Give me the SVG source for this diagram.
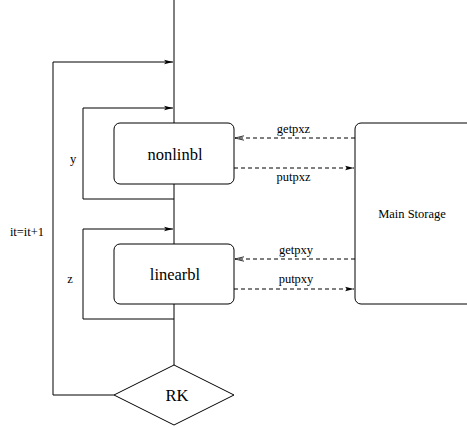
<svg xmlns="http://www.w3.org/2000/svg" width="467" height="427" viewBox="0 0 467 427">
  <style>
    .ln { fill: none; stroke: #000; stroke-width: 1; }
    .box { fill: #fff; stroke: #000; stroke-width: 1; }
    .dash { fill: none; stroke: #000; stroke-width: 1; stroke-dasharray: 4 3; }
    .lbl { font-family: "Liberation Serif", "Times New Roman", serif; fill: #000; }
    .big { font-size: 16.5px; }
    .sm { font-size: 12.5px; }
  </style>
  <defs>
    <marker id="solidHead" markerWidth="10" markerHeight="6" refX="9" refY="3" orient="auto" markerUnits="userSpaceOnUse">
      <path d="M0,0.8 L9,3 L0,5.2 L2,3 Z" fill="#000"/>
    </marker>
    <marker id="openHead" markerWidth="10" markerHeight="6" refX="9" refY="3" orient="auto" markerUnits="userSpaceOnUse">
      <path d="M0,0.8 L9,3 L0,5.2" fill="none" stroke="#000" stroke-width="0.8"/>
    </marker>
  </defs>

  <!-- control flow -->
  <g id="connectors">
    <line class="ln" x1="174" y1="0" x2="174" y2="365"/>
    <polyline class="ln" points="114,395 53,395 53,62 173,62" marker-end="url(#solidHead)"/>
    <polyline class="ln" points="174,199 83,199 83,108 173,108" marker-end="url(#solidHead)"/>
    <polyline class="ln" points="174,319 83,319 83,229 173,229" marker-end="url(#solidHead)"/>
    <line class="dash" x1="355" y1="138" x2="235" y2="138" marker-end="url(#openHead)"/>
    <line class="dash" x1="234" y1="168" x2="354" y2="168" marker-end="url(#solidHead)"/>
    <line class="dash" x1="355" y1="259" x2="235" y2="259" marker-end="url(#openHead)"/>
    <line class="dash" x1="234" y1="289" x2="354" y2="289" marker-end="url(#solidHead)"/>
    <text class="lbl sm" x="73" y="163" text-anchor="middle">y</text>
    <text class="lbl sm" x="70" y="283" text-anchor="middle">z</text>
    <text class="lbl sm" x="27" y="236" text-anchor="middle">it=it+1</text>
    <text class="lbl sm" x="293.5" y="133" text-anchor="middle">getpxz</text>
    <text class="lbl sm" x="293.5" y="181" text-anchor="middle">putpxz</text>
    <text class="lbl sm" x="296" y="254" text-anchor="middle">getpxy</text>
    <text class="lbl sm" x="296" y="283" text-anchor="middle">putpxy</text>
  </g>

  <g id="nonlinbl">
    <rect class="box" x="114" y="123" width="120" height="61" rx="6" ry="6"/>
    <text class="lbl big" x="175" y="160" text-anchor="middle">nonlinbl</text>
  </g>

  <g id="linearbl">
    <rect class="box" x="114" y="244" width="120" height="60" rx="6" ry="6"/>
    <text class="lbl big" x="175" y="280" text-anchor="middle">linearbl</text>
  </g>

  <g id="rk">
    <polygon class="box" points="174,365 234,395 174,425 114,395"/>
    <text class="lbl big" x="177" y="401" text-anchor="middle">RK</text>
  </g>

  <g id="main-storage">
    <rect class="box" x="355" y="123" width="130" height="181" rx="6" ry="6"/>
    <text class="lbl sm" x="412" y="218" text-anchor="middle">Main Storage</text>
  </g>
</svg>
